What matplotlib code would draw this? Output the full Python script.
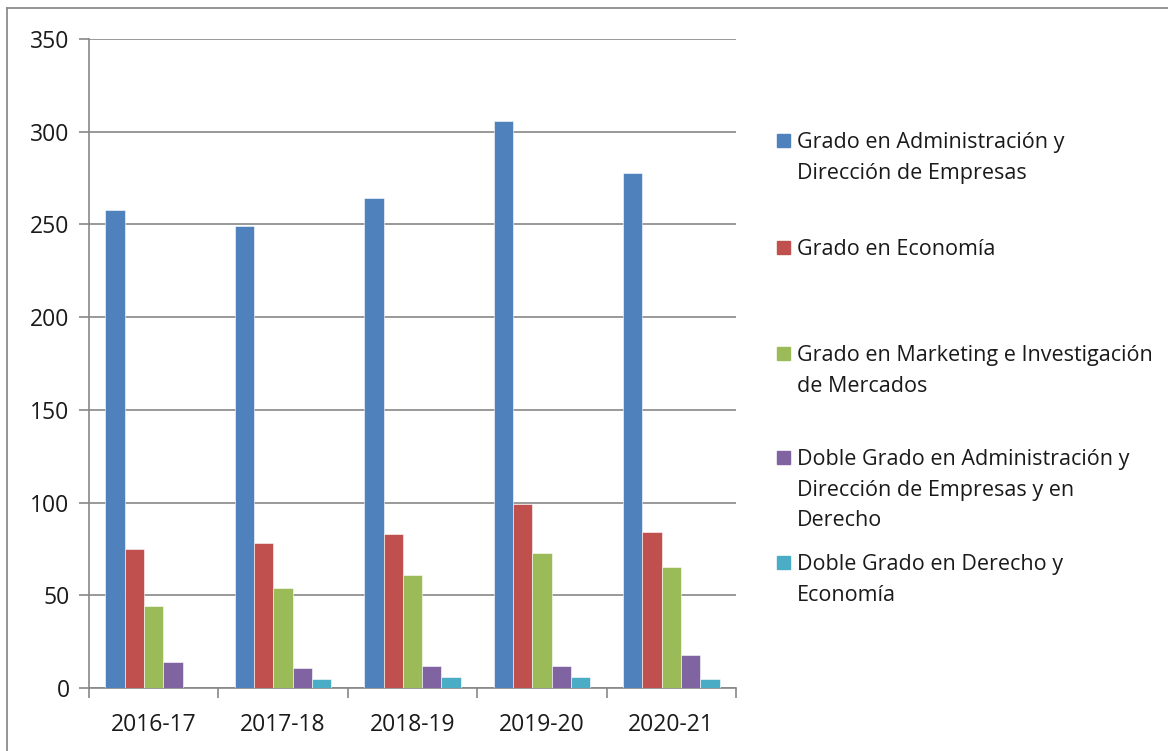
import numpy as np
import matplotlib
matplotlib.use("Agg")
import matplotlib.pyplot as plt
from matplotlib.patches import Rectangle
from matplotlib.lines import Line2D

plt.rcParams['font.family'] = ['Open Sans', 'DejaVu Sans']

cursos = ["2016-17", "2017-18", "2018-19", "2019-20", "2020-21"]
series = [
    "Grado en Administración y\nDirección de Empresas",
    "Grado en Economía",
    "Grado en Marketing e Investigación\nde Mercados",
    "Doble Grado en Administración y\nDirección de Empresas y en\nDerecho",
    "Doble Grado en Derecho y\nEconomía",
]
ade = [258, 249, 264, 306, 278]
eco = [75, 78, 83, 99, 84]
mkt = [44, 54, 61, 73, 65]
ade_der = [14, 11, 12, 12, 18]
der_eco = [0, 5, 6, 6, 5]
valores = [ade, eco, mkt, ade_der, der_eco]
colores = ["#4F81BD", "#C0504D", "#9BBB59", "#8064A2", "#4BACC6"]

fig = plt.figure(figsize=(11.68, 7.51), dpi=100)
ax = fig.add_axes([89/1168, 63/751, 647/1168, 649/751])

x = np.arange(len(cursos))
w = 1 / 6.7
for i, (vals, col) in enumerate(zip(valores, colores)):
    ax.bar(x + (i - 2) * w, vals, width=w, color=col, edgecolor="white", linewidth=0.4, zorder=3)

gris = "#878787"
ax.set_xlim(-0.5, len(cursos) - 0.5)
ax.set_ylim(0, 350)
ax.set_yticks(range(0, 351, 50))
ax.yaxis.grid(True, color=gris, linewidth=1.2, zorder=0)
ax.set_xticks(np.arange(-0.5, len(cursos), 1))
ax.set_xticklabels([])
ax.set_xticks(x, minor=True)
ax.set_xticklabels(cursos, minor=True)
ax.tick_params(axis="x", which="minor", length=0, pad=18, labelsize=16.5, labelcolor="#1a1a1a")
ax.tick_params(axis="x", which="major", length=7, color=gris, width=1.2)
ax.tick_params(axis="y", length=7, color=gris, width=1.2, labelsize=16.5, pad=7, labelcolor="#1a1a1a")
for s in ["top", "right"]:
    ax.spines[s].set_visible(False)
for s in ["left", "bottom"]:
    ax.spines[s].set_color(gris)
    ax.spines[s].set_linewidth(1.2)

# leyenda a mano, como en Excel
tops = [141, 248, 354, 458, 563]
for nombre, col, yt in zip(series, colores, tops):
    fig.add_artist(Rectangle((777/1168, 1 - (yt + 6)/751), 13/1168, 13/751,
                             color=col, transform=fig.transFigure))
    fig.text(797/1168, 1 - (yt - 9)/751, nombre, fontsize=15.5, va="top",
             ha="left", linespacing=1.6, color="#1a1a1a")

# borde del gráfico
fig.add_artist(Line2D([7/1168, 1], [1 - 8/751, 1 - 8/751], color="#8c8c8c", lw=1.3))
fig.add_artist(Line2D([7/1168, 7/1168], [0, 1 - 8/751], color="#8c8c8c", lw=1.3))

fig.savefig("out.png", dpi=100)
